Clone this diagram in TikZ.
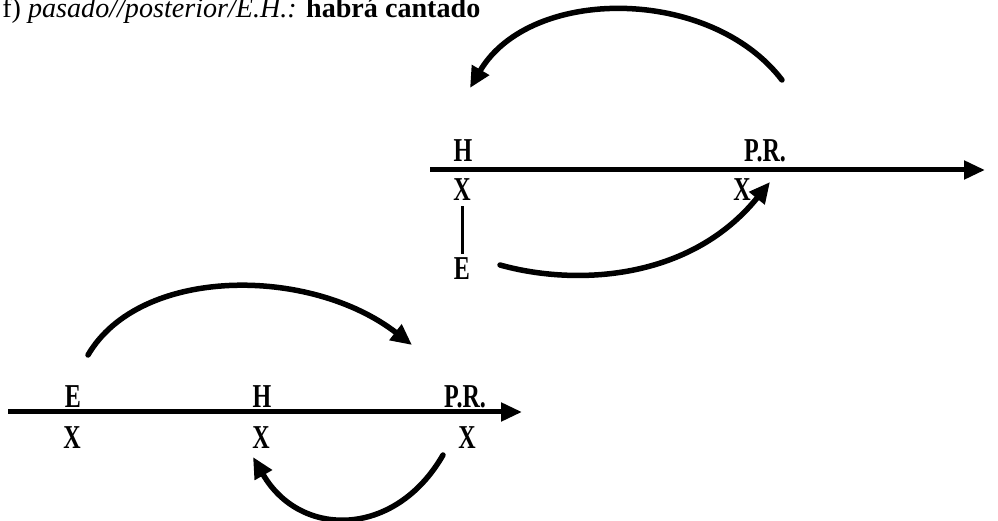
\documentclass[tikz,border=0pt]{standalone}
\usepackage{fontspec}
\setmainfont{Liberation Serif}
\newfontfamily\lblfont[FakeStretch=0.72]{Liberation Serif}
\usepackage{tikz}
\usetikzlibrary{positioning,arrows.meta}
\tikzset{
  axisline/.style={line width=0.1cm, -{Triangle[length=0.42cm, width=0.36cm]}},
  timearc/.style={line width=0.11cm, line cap=round, -{Triangle[length=0.42cm, width=0.38cm]}},
  lbl/.style={inner sep=0pt, font=\lblfont\bfseries\fontsize{19}{21}\selectfont},
  vbar/.style={line width=0.06cm, shorten <=0.1cm, shorten >=0.08cm}
}

\begin{document}
\begin{tikzpicture}
  \useasboundingbox (0,0) rectangle (19.96,10.42);
  \node[anchor=base west, inner sep=0pt, font=\fontsize{16}{18}\selectfont] (title) at (0.04,10.06)
    {f) \textit{pasado//posterior/E.H.:} \textbf{habrá cantado}};

  % upper line
  \coordinate (ax1s) at (8.6,7.02);
  \coordinate (ax1e) at (19.7,7.02);
  \draw[axisline] (ax1s) -- (ax1e);
  \node[lbl] (h1) at (9.26,7.4) {H};
  \node[lbl] (pr1) at (15.3,7.4) {P.R.};
  \node[lbl] (x1h) at (9.24,6.62) {X};
  \node[lbl] (x1pr) at (14.84,6.62) {X};
  \node[lbl] (e1) at (9.24,5.04) {E};
  \draw[vbar] (x1h.south) -- (e1.north);

  \coordinate (arc1s) at (15.64,8.82);
  \coordinate (arc1e) at (9.4,8.66);
  \draw[timearc] (arc1s) .. controls (14.2,10.7) and (10.6,10.7) .. (arc1e);
  \coordinate (arc2s) at (10.0,5.12);
  \coordinate (arc2e) at (15.4,6.78);
  \draw[timearc] (arc2s) .. controls (11.5,4.7) and (13.8,4.8) .. (arc2e);

  % lower line
  \coordinate (ax2s) at (0.16,2.18);
  \coordinate (ax2e) at (10.44,2.18);
  \draw[axisline] (ax2s) -- (ax2e);
  \node[lbl] (e2) at (1.46,2.48) {E};
  \node[lbl] (h2) at (5.24,2.48) {H};
  \node[lbl] (pr2) at (9.3,2.48) {P.R.};
  \node[lbl] (x2e) at (1.44,1.66) {X};
  \node[lbl] (x2h) at (5.22,1.66) {X};
  \node[lbl] (x2pr) at (9.34,1.66) {X};

  \coordinate (arc3s) at (1.76,3.32);
  \coordinate (arc3e) at (8.24,3.52);
  \draw[timearc] (arc3s) .. controls (2.8,5.1) and (6.2,5.1) .. (arc3e);
  \coordinate (arc4s) at (8.86,1.32);
  \coordinate (arc4e) at (5.06,1.28);
  \draw[timearc] (arc4s) .. controls (7.9,-0.35) and (6.0,-0.35) .. (arc4e);
\end{tikzpicture}
\end{document}
